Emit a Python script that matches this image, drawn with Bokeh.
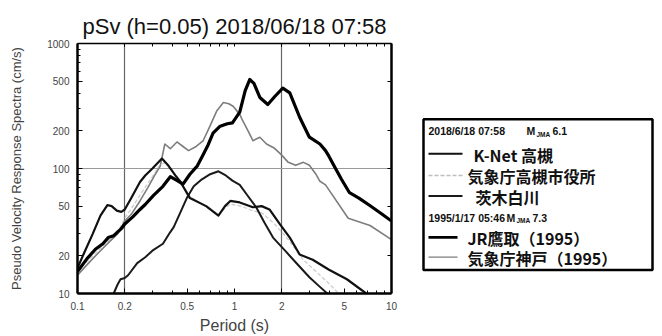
from bokeh.plotting import figure
from bokeh.models import Range1d, FixedTicker, LogAxis
from bokeh.layouts import row
from bokeh.core.properties import value
from bokeh.embed import file_html
from bokeh.resources import INLINE

# ---------------- data ----------------
title_text = "pSv (h=0.05) 2018/06/18 07:58"
x_label = "Period (s)"
y_label = "Pseudo Velocity Response Spectra (cm/s)"

x_ticks = [0.1, 0.2, 0.5, 1, 2, 5, 10]
x_tick_labels = ["0.1", "0.2", "0.5", "1", "2", "5", "10"]
y_ticks = [10, 20, 50, 100, 200, 500, 1000]
y_tick_labels = ["10", "20", "50", "100", "200", "500", "1000"]
grid_periods = [0.2, 2]
grid_values = [100]

# K-Net 高槻
knet_T = [0.1, 0.11, 0.125, 0.14, 0.155, 0.165, 0.178, 0.19, 0.2, 0.22, 0.25, 0.27, 0.3,
          0.345, 0.38, 0.42, 0.45, 0.52, 0.66, 0.79, 0.87, 0.94, 1.08, 1.31, 1.49, 1.67,
          1.94, 2.25, 2.6, 3.15, 4.0, 5.2, 6.9]
knet_V = [16, 21, 30, 42, 51, 50, 46, 45, 47, 58, 78, 88, 100,
          120, 105, 88, 79, 58, 50, 42, 50, 55, 53.5, 49, 50, 47,
          36, 28, 20.5, 18.6, 15.5, 13, 10]

# 気象庁高槻市役所
jmat_T = [0.1, 0.12, 0.14, 0.16, 0.175, 0.185, 0.2, 0.23, 0.26, 0.3, 0.33, 0.36, 0.4,
          0.45, 0.52, 0.66, 0.79, 0.94, 1.1, 1.3, 1.5, 1.8, 2.2, 2.7, 3.3, 4.0, 4.6]
jmat_V = [15, 19, 23, 27, 31, 33, 40, 52, 66, 86, 104, 112, 96,
          78, 60, 49, 43, 52, 50, 46, 44, 36, 27, 19, 15, 12, 10]

# 茨木白川
ibar_T = [0.17, 0.18, 0.188, 0.2, 0.21, 0.24, 0.27, 0.3, 0.35, 0.39, 0.41, 0.45, 0.5,
          0.55, 0.62, 0.7, 0.79, 0.88, 0.97, 1.08, 1.22, 1.38, 1.55, 1.76, 2.1, 2.5,
          3.0, 3.5, 3.9]
ibar_V = [10, 11.8, 13, 13.3, 14, 17.5, 19.5, 22, 25, 31, 34, 44, 59,
          72, 82, 90, 95, 88, 80, 74, 60, 48.6, 37, 28, 22, 17.3,
          13.5, 11.3, 10]

# JR鷹取 (1995)
jr_T = [0.1, 0.115, 0.13, 0.145, 0.157, 0.17, 0.18, 0.19, 0.2, 0.225, 0.25, 0.27, 0.305,
        0.35, 0.39, 0.44, 0.47, 0.52, 0.58, 0.63, 0.68, 0.73, 0.81, 0.9, 0.97, 1.08,
        1.17, 1.25, 1.33, 1.45, 1.63, 1.8, 2.03, 2.25, 2.6, 3.0, 3.5, 3.8, 4.0, 4.4,
        4.8, 5.4, 6.2, 7.2, 8.5, 10]
jr_V = [15, 19, 22.6, 25, 28, 29, 31, 33, 36, 41, 47, 51.5, 61,
        72, 86, 79, 75, 90, 105, 128, 155, 192, 218, 228, 232, 283,
        420, 515, 480, 370, 325, 375, 440, 403, 257, 178, 157, 139, 125, 100,
        82, 64, 58, 51, 44, 38]

# 気象庁神戸 (1995)
kobe_T = [0.1, 0.12, 0.14, 0.16, 0.18, 0.2, 0.22, 0.25, 0.28, 0.31, 0.336, 0.36, 0.39,
          0.43, 0.47, 0.51, 0.57, 0.63, 0.7, 0.77, 0.85, 0.92, 0.98, 1.08, 1.13, 1.22,
          1.31, 1.45, 1.6, 1.8, 2.0, 2.2, 2.45, 2.75, 3.0, 3.3, 3.5, 3.8, 5.3, 7.3, 10]
kobe_V = [14, 18, 22, 26, 30, 38, 43, 55, 70, 88, 104, 157, 144,
          163, 150, 139, 150, 166, 220, 288, 337, 330, 315, 271, 240, 200,
          167, 178, 157, 145, 128, 112, 106, 112, 106, 90, 79, 74, 40, 35, 27]

header_2018 = "2018/6/18 07:58"
header_1995 = "1995/1/17 05:46"
mag_2018 = "6.1"
mag_1995 = "7.3"
legend_labels = ["K-Net 高槻", "気象庁高槻市役所", "茨木白川", "JR鷹取（1995）", "気象庁神戸（1995）"]

# ---------------- styles ----------------
series = [
    (jmat_T, jmat_V, "#cdcdcd", 1.3, "4 2"),
    (kobe_T, kobe_V, "#7d7d7d", 1.6, "solid"),
    (ibar_T, ibar_V, "#1a1a1a", 2.0, "solid"),
    (knet_T, knet_V, "#111111", 2.2, "solid"),
    (jr_T, jr_V, "#000000", 3.2, "solid"),
]
legend_styles = [
    ("#111111", 2.2, "solid"),
    ("#bdbdbd", 1.5, "4 2"),
    ("#1a1a1a", 2.0, "solid"),
    ("#000000", 2.6, "solid"),
    ("#7d7d7d", 1.4, "solid"),
]

FONT = "Liberation Sans"
JFONT = "Noto Sans CJK JP"
TOP, BOTTOM_BORDER, H = 43, 39, 336

p = figure(width=408, height=H, x_axis_type="log", y_axis_type="log",
           x_range=Range1d(0.1, 10), y_range=Range1d(10, 1000),
           output_backend="svg", toolbar_location=None,
           min_border_left=77, min_border_right=17, min_border_top=TOP,
           min_border_bottom=BOTTOM_BORDER)
p.title.text = title_text
p.title.align = "center"
p.title.text_font = FONT
p.title.text_font_size = "22px"
p.title.text_line_height = 0.8
p.title.text_font_style = "normal"
p.title.text_color = "#111111"
p.outline_line_color = None
p.background_fill_color = "white"
p.border_fill_color = "white"

def minor_list(lo_exp, hi_exp):
    out = []
    for e in range(lo_exp, hi_exp):
        for m in range(2, 10):
            out.append(m * 10.0 ** e)
    return out

x_minor = minor_list(-1, 1)
y_minor = minor_list(1, 3)

# bottom axis
xa = p.xaxis[0]
xa.ticker = FixedTicker(ticks=x_ticks, minor_ticks=x_minor)
xa.major_label_overrides = {t: l for t, l in zip(x_ticks, x_tick_labels)}
xa.axis_label = x_label
xa.axis_label_text_font = FONT
xa.axis_label_text_font_size = "16px"
xa.axis_label_text_font_style = "normal"
xa.axis_label_standoff = 4
xa.major_label_text_font = FONT
xa.major_label_text_font_size = "10px"
xa.major_label_standoff = 8
xa.axis_line_width = 2.5
xa.major_tick_in = 5
xa.major_tick_out = 0
xa.minor_tick_in = 3
xa.minor_tick_out = 0

# left axis
ya = p.yaxis[0]
ya.ticker = FixedTicker(ticks=y_ticks, minor_ticks=y_minor)
ya.major_label_overrides = {t: l for t, l in zip(y_ticks, y_tick_labels)}
ya.axis_label = y_label
ya.axis_label_text_font = FONT
ya.axis_label_text_font_size = "13px"
ya.axis_label_text_font_style = "normal"
ya.axis_label_standoff = 20
ya.major_label_text_font = FONT
ya.major_label_text_font_size = "10px"
ya.major_label_standoff = 8
ya.axis_line_width = 2.5
ya.major_tick_in = 5
ya.major_tick_out = 0
ya.minor_tick_in = 3
ya.minor_tick_out = 0

# top / right frame axes (ticks only)
top = LogAxis(ticker=FixedTicker(ticks=[], minor_ticks=x_ticks + x_minor))
top.axis_line_width = 1.5
top.minor_tick_in = 3
top.minor_tick_out = 0
p.add_layout(top, "above")
right = LogAxis(ticker=FixedTicker(ticks=[], minor_ticks=y_ticks))
right.axis_line_width = 2.5
right.minor_tick_in = 4
right.minor_tick_out = 0
p.add_layout(right, "right")

p.xgrid.ticker = FixedTicker(ticks=grid_periods)
p.xgrid.grid_line_color = "#666666"
p.xgrid.grid_line_width = 1.2
p.ygrid.ticker = FixedTicker(ticks=grid_values)
p.ygrid.grid_line_color = "#9a9a9a"
p.ygrid.grid_line_width = 1.2

for T, V, c, w, d in series:
    p.line(T, V, line_color=c, line_width=w, line_dash=d, line_join="round")

# ---------------- legend panel (coordinates in page pixels, y downward) ----------------
LW = 252
frame_bottom = H - BOTTOM_BORDER
lg = figure(width=LW, height=H, x_range=Range1d(0, LW), y_range=Range1d(frame_bottom, TOP),
            output_backend="svg", toolbar_location=None,
            min_border_left=0, min_border_right=0, min_border_top=TOP,
            min_border_bottom=BOTTOM_BORDER,
            x_axis_location=None, y_axis_location=None)
lg.grid.visible = False
lg.outline_line_color = None

box_l, box_r, box_t, box_b = 15, 244, 120, 273
lg.quad(left=[box_l], right=[box_r], top=[box_t], bottom=[box_b],
        fill_color=None, line_color="black", line_width=2.5)

row_y = [155, 177, 198, 240, 260]
line_x0 = [20, 20, 20, 20, 20]
line_x1 = [54, 54, 54, 49, 49]
text_x = [65, 59, 67, 59, 59]
for i, (c, w, d) in enumerate(legend_styles):
    lg.line([line_x0[i], line_x1[i]], [row_y[i], row_y[i]], line_color=c, line_width=w, line_dash=d)
lg.text(x=text_x, y=[y + 1 for y in row_y], text=legend_labels,
        text_font=value(JFONT), text_font_size="16px", text_font_style="bold",
        text_baseline="middle", text_color="#111111")

# headers with M_JMA
hy = [132, 220]
lg.text(x=[20, 20], y=hy, text=[header_2018, header_1995],
        text_font=value(FONT), text_font_size="10.5px", text_font_style="bold",
        text_baseline="middle", text_color="#111111")
lg.text(x=[118, 98], y=hy, text=["M", "M"],
        text_font=value(FONT), text_font_size="10.5px", text_font_style="bold",
        text_baseline="middle", text_color="#111111")
lg.text(x=[128, 108], y=[y + 3 for y in hy], text=["JMA", "JMA"],
        text_font=value(FONT), text_font_size="6.5px", text_font_style="bold",
        text_baseline="middle", text_color="#111111")
lg.text(x=[144, 124], y=hy, text=[mag_2018, mag_1995],
        text_font=value(FONT), text_font_size="10.5px", text_font_style="bold",
        text_baseline="middle", text_color="#111111")

layout = row(p, lg)
open("out.html", "w").write(file_html(layout, INLINE))
